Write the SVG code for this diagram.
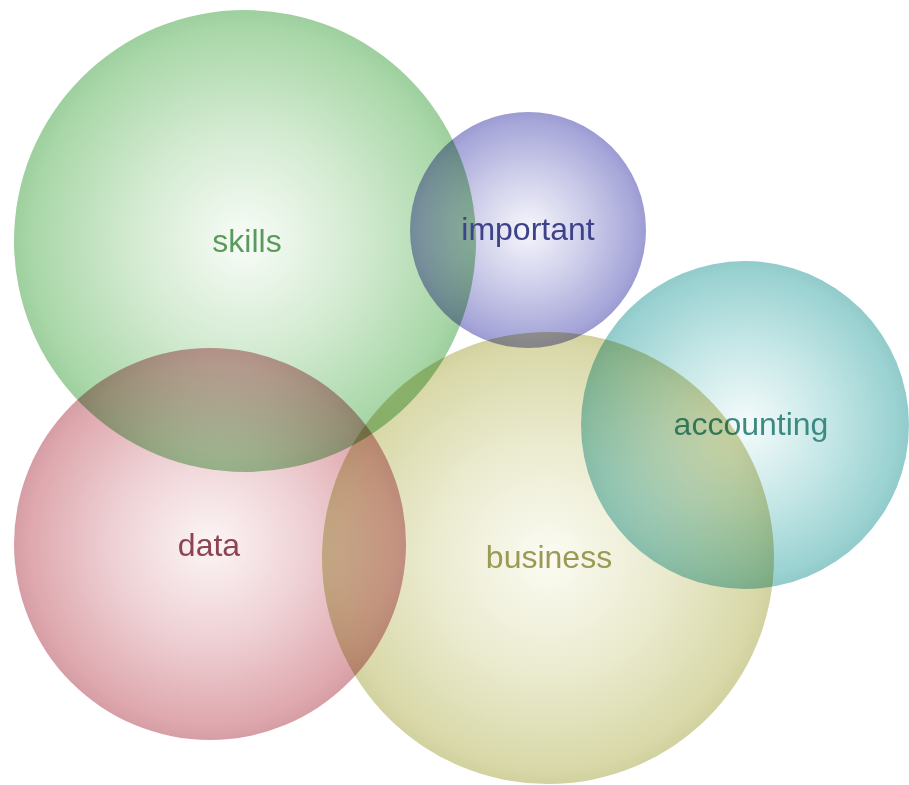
<svg xmlns="http://www.w3.org/2000/svg" width="909" height="785" viewBox="0 0 909 785">
  <style>
    .bubble { mix-blend-mode: multiply; }
    .label { font-family: "Liberation Sans", Arial, sans-serif; font-size: 32px; text-anchor: middle; }
  </style>
  <defs>
    <radialGradient id="g-green">
      <stop offset="0" stop-color="#f8fcf7"/>
      <stop offset="0.5" stop-color="#d2ead0"/>
      <stop offset="0.92" stop-color="#a9d7a8"/>
      <stop offset="1" stop-color="#9ecf9e"/>
    </radialGradient>
    <radialGradient id="g-blue">
      <stop offset="0" stop-color="#f6f6fc"/>
      <stop offset="0.5" stop-color="#cdcdea"/>
      <stop offset="0.92" stop-color="#a6a6d9"/>
      <stop offset="1" stop-color="#9c9cd3"/>
    </radialGradient>
    <radialGradient id="g-teal">
      <stop offset="0" stop-color="#f5fbfb"/>
      <stop offset="0.5" stop-color="#c6e7e7"/>
      <stop offset="0.92" stop-color="#9bd2d2"/>
      <stop offset="1" stop-color="#92cbcb"/>
    </radialGradient>
    <radialGradient id="g-red">
      <stop offset="0" stop-color="#fcf5f5"/>
      <stop offset="0.5" stop-color="#eed0d4"/>
      <stop offset="0.92" stop-color="#dea8ae"/>
      <stop offset="1" stop-color="#d69da5"/>
    </radialGradient>
    <radialGradient id="g-olive">
      <stop offset="0" stop-color="#fbfbf3"/>
      <stop offset="0.5" stop-color="#ebebd0"/>
      <stop offset="0.92" stop-color="#d9d9aa"/>
      <stop offset="1" stop-color="#d2d2a0"/>
    </radialGradient>
  </defs>

  <rect width="909" height="785" fill="#ffffff"/>

  <g id="connectors"/>

  <g id="node-skills">
    <circle class="bubble" cx="245" cy="241" r="231" fill="url(#g-green)"/>
    <text class="label" x="247" y="252" fill="#5b9a5d">skills</text>
  </g>

  <g id="node-important">
    <circle class="bubble" cx="528" cy="230" r="118" fill="url(#g-blue)"/>
    <text class="label" x="528" y="240" fill="#3d4289">important</text>
  </g>

  <g id="node-accounting">
    <circle class="bubble" cx="745" cy="425" r="164" fill="url(#g-teal)"/>
    <text class="label" x="751" y="435" fill="#3c8b83">accounting</text>
  </g>

  <g id="node-data">
    <circle class="bubble" cx="210" cy="544" r="196" fill="url(#g-red)"/>
    <text class="label" x="209" y="556" fill="#8c4452">data</text>
  </g>

  <g id="node-business">
    <circle class="bubble" cx="548" cy="558" r="226" fill="url(#g-olive)"/>
    <text class="label" x="549" y="568" fill="#9a9a55">business</text>
  </g>
</svg>
